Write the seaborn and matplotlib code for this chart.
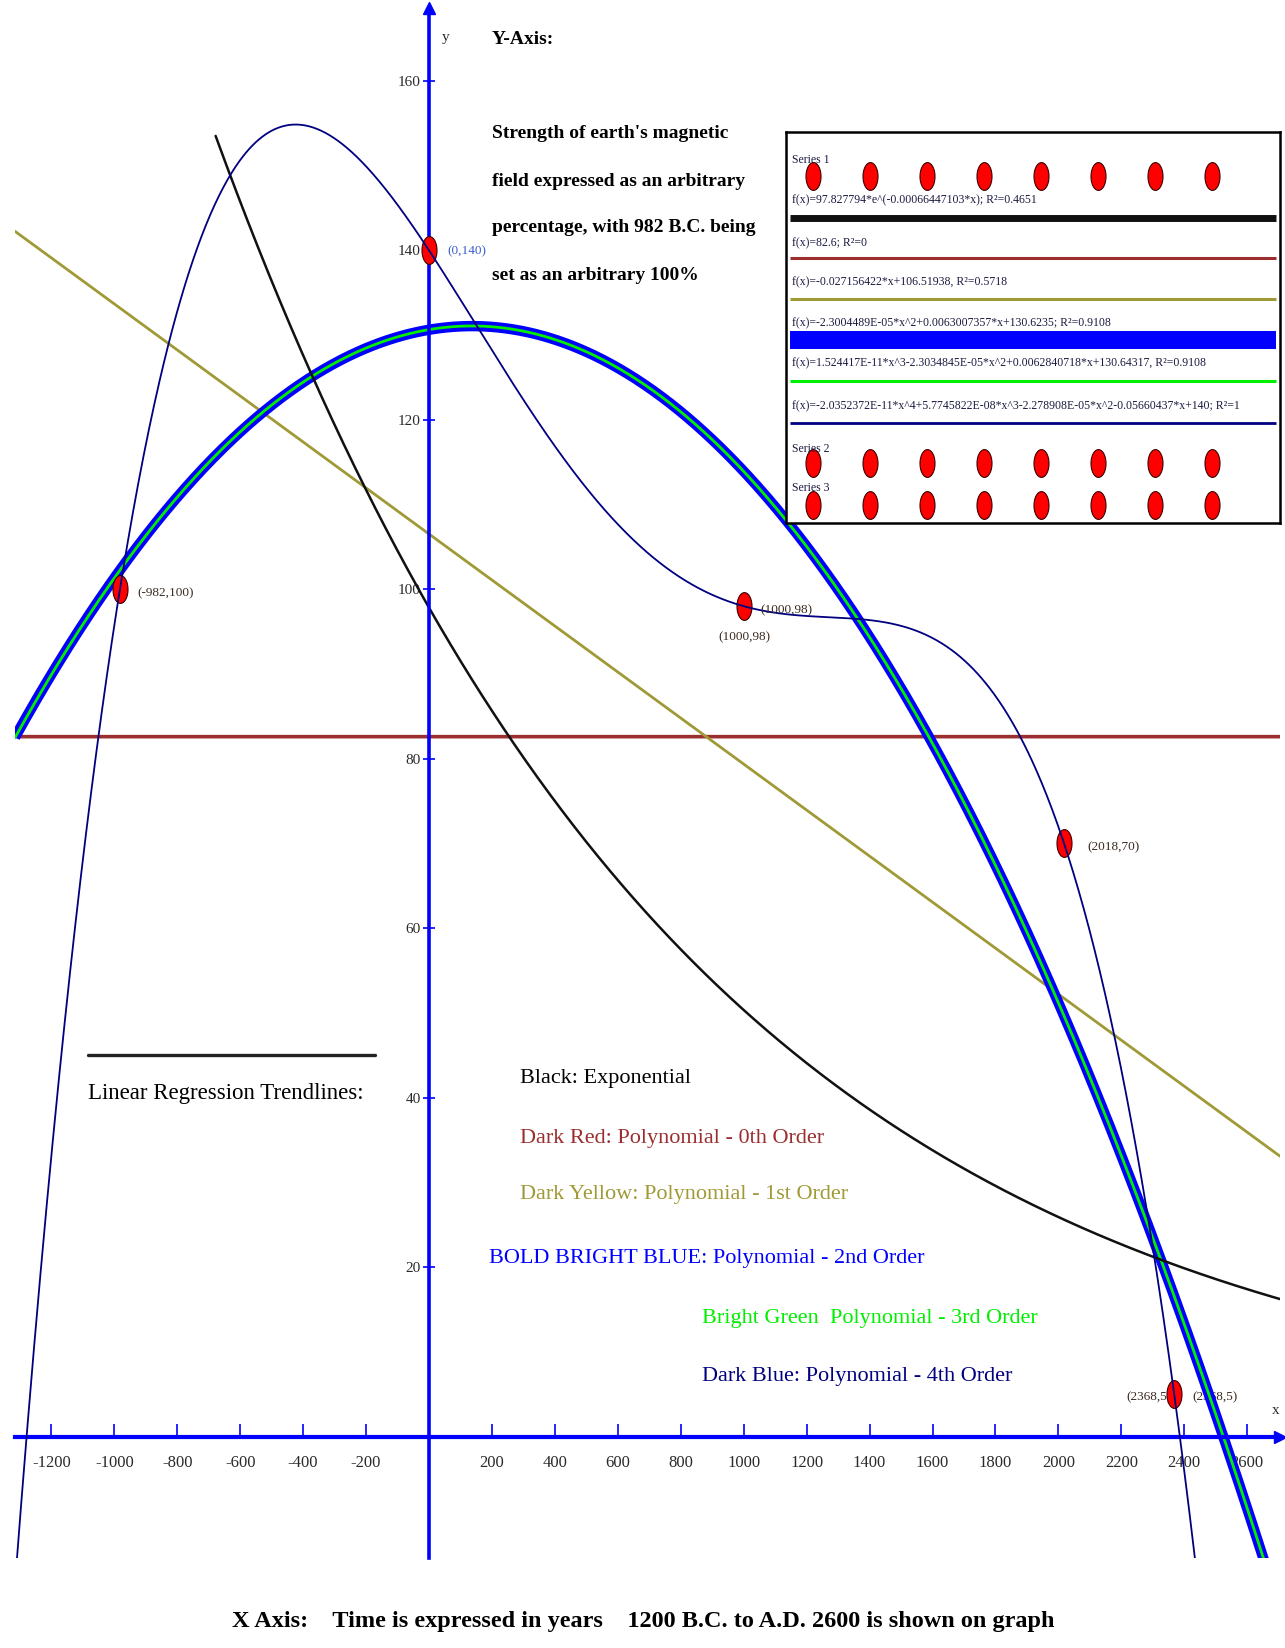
import numpy as np
import pandas as pd
import matplotlib
matplotlib.use("Agg")
import matplotlib.pyplot as plt
from matplotlib.path import Path
from matplotlib.lines import Line2D
from matplotlib.ticker import FixedLocator, FixedFormatter
import seaborn as sns

# ------------------------------------------------------------------ data
years = [-982, 0, 1000, 2018, 2368]
strength = [100, 140, 98, 70, 5]

x_ticks = [-1200, -1000, -800, -600, -400, -200, 200, 400, 600, 800, 1000,
           1200, 1400, 1600, 1800, 2000, 2200, 2400, 2600]
y_ticks = [20, 40, 60, 80, 100, 120, 140, 160]
x_tick_labels = [str(v) for v in x_ticks]
y_tick_labels = [str(v) for v in y_ticks]

x_range = (-1315.5, 2704.2)
y_range = (-14.34, 168.6)
exp_start = -678          # the exponential trendline is drawn from here

point_labels = ["(-982,100)", "(0,140)", "(1000,98)", "(2018,70)", "(2368,5)"]
extra_point_labels = ["(1000,98)", "(2368,5)"]

legend_texts = ["Black: Exponential",
                "Dark Red: Polynomial - 0th Order",
                "Dark Yellow: Polynomial - 1st Order",
                "BOLD BRIGHT BLUE: Polynomial - 2nd Order",
                "Bright Green  Polynomial - 3rd Order",
                "Dark Blue: Polynomial - 4th Order"]
y_axis_title = "Y-Axis:"
y_axis_desc = ["Strength of earth's magnetic",
               "field expressed as an arbitrary",
               "percentage, with 982 B.C. being",
               "set as an arbitrary 100%"]
x_axis_caption = "X Axis:    Time is expressed in years    1200 B.C. to A.D. 2600 is shown on graph"
trend_title = "Linear Regression Trendlines:"
series_names = ["Series 1", "Series 2", "Series 3"]

# ------------------------------------------------------------------ colours
C_AXIS = "#0000FF"
C_BLACK = "#111111"
C_RED = "#9B2F2F"
C_OLIVE = "#A09A36"
C_BLUE = "#0000FF"
C_GREEN = "#00EE00"
C_NAVY = "#000080"
C_DOT = "#FF0000"

# ------------------------------------------------------------------ fits
X = np.array(years, float)
Y = np.array(strength, float)


def r_squared(obs, pred):
    ss_res = np.sum((obs - pred) ** 2)
    ss_tot = np.sum((obs - obs.mean()) ** 2)
    return 1 - ss_res / ss_tot


polys = {}
for deg in range(5):
    polys[deg] = np.polynomial.Polynomial.fit(X, Y, deg).convert()

b_exp, ln_a = np.polyfit(X, np.log(Y), 1)
a_exp = np.exp(ln_a)
r2_exp = r_squared(np.log(Y), ln_a + b_exp * X)


def fmt(c):
    return f"{c:.8G}"


def fmt_r2(r):
    r = round(float(r), 4)
    return f"{r:.4g}"


def poly_str(P):
    coefs = list(P.coef)
    parts = []
    for power in range(len(coefs) - 1, -1, -1):
        s = fmt(coefs[power])
        if power > 1:
            s += f"*x^{power}"
        elif power == 1:
            s += "*x"
        if parts and not s.startswith("-"):
            s = "+" + s
        parts.append(s)
    return "f(x)=" + "".join(parts)


formula_exp = f"f(x)={fmt(a_exp)}*e^({fmt(b_exp)}*x); R²={fmt_r2(r2_exp)}"
formula_0 = f"{poly_str(polys[0])}; R²=0"
formula_1 = f"{poly_str(polys[1])}, R²={fmt_r2(r_squared(Y, polys[1](X)))}"
formula_2 = f"{poly_str(polys[2])}; R²={fmt_r2(r_squared(Y, polys[2](X)))}"
formula_3 = f"{poly_str(polys[3])}, R²={fmt_r2(r_squared(Y, polys[3](X)))}"
formula_4 = f"{poly_str(polys[4])}; R²={fmt_r2(r_squared(Y, polys[4](X)))}"

# ------------------------------------------------------------------ figure
sns.set_theme(style="white")
plt.rcParams["font.family"] = ["Liberation Serif", "DejaVu Serif"]
plt.rcParams["axes.unicode_minus"] = False

W, H = 1285, 1648
fig = plt.figure(figsize=(W / 100, H / 100), dpi=100)
fig.patch.set_facecolor("white")


def fx(px):
    return px / W


def fy(py):
    return 1 - py / H


ax = fig.add_axes([fx(15), fy(1558), fx(1280) - fx(15), fy(8) - fy(1558)])
ax.set_facecolor("white")
ax.set_xlim(*x_range)
ax.set_ylim(*y_range)

# elliptical marker (points look taller than wide)
t = np.linspace(0, 2 * np.pi, 80)
ellipse = Path(np.column_stack([0.54 * np.cos(t), np.sin(t)]), closed=True)

xs = np.linspace(x_range[0], x_range[1], 1200)
xs_exp = np.linspace(exp_start, x_range[1], 800)

sns.lineplot(x=xs, y=np.full_like(xs, polys[0](xs)), ax=ax, color=C_RED,
             linewidth=2.6, zorder=2.0)
sns.lineplot(x=xs, y=polys[1](xs), ax=ax, color=C_OLIVE, linewidth=2.0, zorder=2.0)
sns.lineplot(x=xs, y=polys[2](xs), ax=ax, color=C_BLUE, linewidth=7.5, zorder=2.1,
             solid_capstyle="butt")
sns.lineplot(x=xs, y=polys[3](xs), ax=ax, color=C_GREEN, linewidth=2.0, zorder=2.2)
sns.lineplot(x=xs_exp, y=a_exp * np.exp(b_exp * xs_exp), ax=ax, color=C_BLACK,
             linewidth=1.8, zorder=2.3)
sns.lineplot(x=xs, y=polys[4](xs), ax=ax, color=C_NAVY, linewidth=1.3, zorder=3.5)

sns.scatterplot(x=X, y=Y, ax=ax, marker=ellipse, s=400, color=C_DOT,
                edgecolor="#3a0000", linewidth=0.8, zorder=3)

# point labels (offsets in pixels from each point)
label_offsets = [(17, -4), (18, -1), (17, -4), (23, -4), (-3, -3)]
label_ha = ["left", "left", "left", "left", "right"]
label_colors = ["#3a2a20", "#3b5fcf", "#3a2a20", "#3a2a20", "#3a2a20"]
label_z = [5, 5, 5, 5, 2.9]
for (xv, yv), lab, off, ha, col, z in zip(zip(X, Y), point_labels, label_offsets,
                                          label_ha, label_colors, label_z):
    ax.annotate(lab, xy=(xv, yv), xytext=off, textcoords="offset pixels",
                ha=ha, va="center", fontsize=9.5, color=col, zorder=z)
extra_targets = [(X[2], Y[2]), (X[4], Y[4])]
extra_offsets = [(-25, -31), (18, -3)]
for (xv, yv), lab, off in zip(extra_targets, extra_point_labels, extra_offsets):
    ax.annotate(lab, xy=(xv, yv), xytext=off, textcoords="offset pixels",
                ha="left", va="center", fontsize=9.5, color="#3a2a20", zorder=2.05)

# axes through the origin
for side in ["top", "right"]:
    ax.spines[side].set_visible(False)
ax.spines["left"].set_position(("data", 0))
ax.spines["bottom"].set_position(("data", 0))
ax.spines["left"].set_color(C_AXIS)
ax.spines["bottom"].set_color(C_AXIS)
ax.spines["left"].set_linewidth(2.6)
ax.spines["bottom"].set_linewidth(3.0)
ax.spines["left"].set_zorder(2.5)
ax.spines["bottom"].set_zorder(2.5)

ax.xaxis.set_major_locator(FixedLocator(x_ticks))
ax.xaxis.set_major_formatter(FixedFormatter(x_tick_labels))
ax.yaxis.set_major_locator(FixedLocator(y_ticks))
ax.yaxis.set_major_formatter(FixedFormatter(y_tick_labels))
ax.tick_params(axis="x", direction="in", length=9.5, width=1.2, color=C_AXIS,
               pad=13, labelsize=12, labelcolor="#2a2a2a")
ax.tick_params(axis="y", direction="inout", length=9, width=1.2, color=C_AXIS,
               pad=1.5, labelsize=11, labelcolor="#2a2a2a")
ax.tick_params(which="both", bottom=True, left=True)

ax.plot(1, 0, ">", color=C_AXIS, markersize=9, transform=ax.get_yaxis_transform(),
        clip_on=False, zorder=3)
ax.plot(0, 1, "^", color=C_AXIS, markersize=9, transform=ax.get_xaxis_transform(),
        clip_on=False, zorder=3)

# ------------------------------------------------------------------ texts


def ptext(px, py, s, **kw):
    kw.setdefault("ha", "left")
    kw.setdefault("va", "center")
    return fig.text(fx(px), fy(py), s, **kw)


ptext(442, 38, "y", fontsize=11, color="#2a2a2a")
ptext(1272, 1410, "x", fontsize=11, color="#2a2a2a")
ptext(492, 40, y_axis_title, fontsize=14, fontweight="bold", color="black")
for i, line in enumerate(y_axis_desc):
    ptext(492, 134 + i * 47, line, fontsize=14, fontweight="bold", color="black")

fig.add_artist(Line2D([fx(88), fx(375)], [fy(1055), fy(1055)], color="#222222",
                      linewidth=2.4))
ptext(88, 1094, trend_title, fontsize=16.5, color="black")

legend_pos = [(520, 1079), (520, 1138), (520, 1195), (489, 1259), (702, 1319),
              (702, 1376)]
legend_cols = ["black", C_RED, C_OLIVE, C_BLUE, C_GREEN, C_NAVY]
for (px, py), s, c in zip(legend_pos, legend_texts, legend_cols):
    ptext(px, py, s, fontsize=16, color=c)

ptext(232, 1622, x_axis_caption, fontsize=17.5, fontweight="bold", color="black")

# ------------------------------------------------------------------ legend box
lax = fig.add_axes([fx(786), fy(523), fx(1280) - fx(786), fy(132) - fy(523)])
lax.set_xlim(786, 1280)
lax.set_ylim(523, 132)
lax.set_xticks([])
lax.set_yticks([])
lax.set_facecolor("white")
for sp in lax.spines.values():
    sp.set_color("black")
    sp.set_linewidth(1.8)

dot_x = [813 + 57 * k for k in range(8)]
for row_y, name, name_y in zip([176, 463, 505], series_names, [160, 449, 488]):
    lax.scatter(dot_x, [row_y] * len(dot_x), marker=ellipse, s=400, color=C_DOT,
                edgecolor="#3a0000", linewidth=0.8, zorder=2)
    lax.text(792, name_y, name, fontsize=8.5, color="#1a1a40", ha="left",
             va="center", zorder=3)

legend_rows = [
    (formula_exp, 200, 218, C_BLACK, 5.0),
    (formula_0, 243, 258, C_RED, 2.2),
    (formula_1, 282, 299, C_OLIVE, 2.2),
    (formula_2, 323, 340, C_BLUE, 13.0),
    (formula_3, 363, 381, C_GREEN, 2.2),
    (formula_4, 406, 423, C_NAVY, 2.0),
]
for text, ty, ly, col, lw in legend_rows:
    lax.text(792, ty, text, fontsize=8.5, color="#1a1a40", ha="left", va="center")
    lax.plot([790, 1276], [ly, ly], color=col, linewidth=lw, solid_capstyle="butt")

fig.savefig("out.png", dpi=100, facecolor="white")
